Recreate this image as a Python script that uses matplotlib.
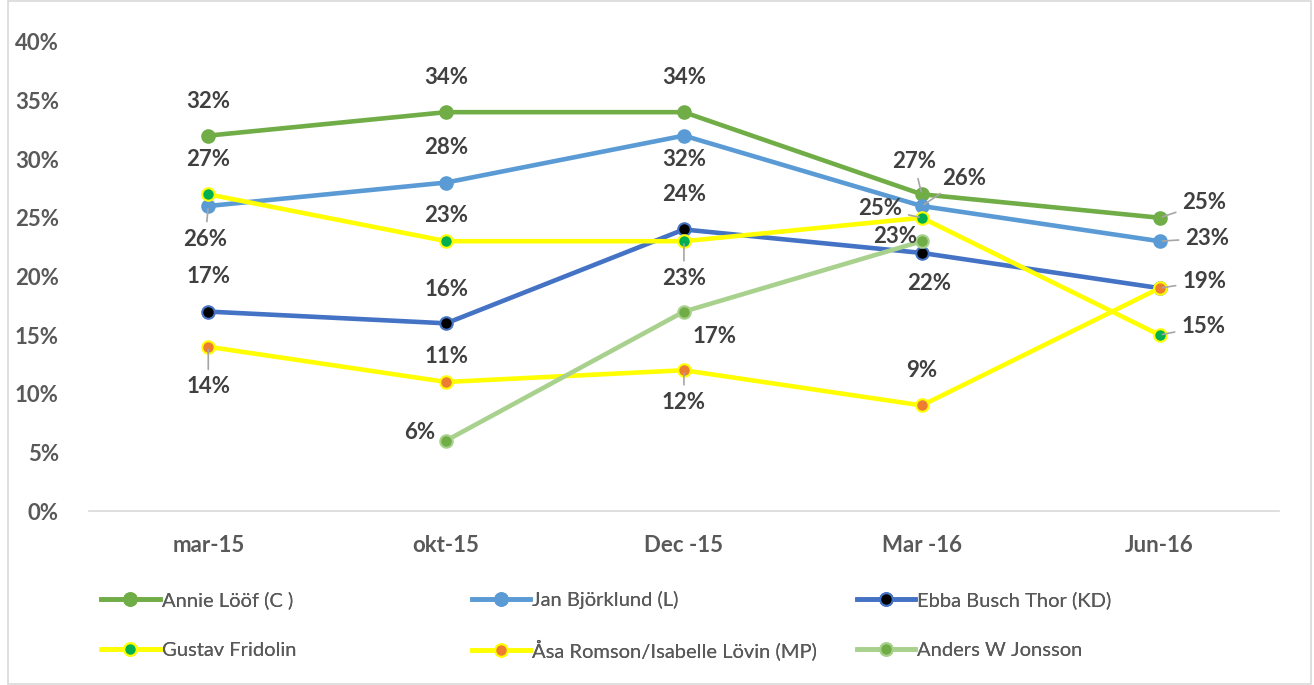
import numpy as np
import matplotlib
matplotlib.use("Agg")
from matplotlib import pyplot as plt
from matplotlib.patches import Rectangle
from matplotlib.lines import Line2D
from matplotlib.ticker import PercentFormatter

plt.rcParams["font.family"] = ["Lato", "DejaVu Sans"]

# data
categories = ["mar-15", "okt-15", "Dec -15", "Mar -16", "Jun-16"]
names = ["Annie Lööf (C )", "Jan Björklund (L)", "Ebba Busch Thor (KD)",
         "Gustav Fridolin", "Åsa Romson/Isabelle Lövin (MP)", "Anders W Jonsson"]
annie = [0.32, 0.34, 0.34, 0.27, 0.25]
jan = [0.26, 0.28, 0.32, 0.26, 0.23]
ebba = [0.17, 0.16, 0.24, 0.22, 0.19]
gustav = [0.27, 0.23, 0.23, 0.25, 0.15]
asa = [0.14, 0.11, 0.12, 0.09, 0.19]
anders = [np.nan, 0.06, 0.17, 0.23, np.nan]
series = [annie, jan, ebba, gustav, asa, anders]

# styles: line colour, marker face, marker edge
styles = [
    ("#70AD47", "#70AD47", "#70AD47"),
    ("#5B9BD5", "#5B9BD5", "#5B9BD5"),
    ("#4472C4", "#000000", "#4472C4"),
    ("#FFFF00", "#00B050", "#FFFF00"),
    ("#FFFF00", "#ED7D31", "#FFFF00"),
    ("#A9D18E", "#70AD47", "#A9D18E"),
]

# label offsets in pixels (dx, dy, leader), None = no label
offsets = [
    [(0, 34, 0), (0, 35, 0), (0, 35, 0), (-8, 33, 1), (45, 15, 1)],
    [(-3, -33, 1), (0, 35, 0), (0, -24, 0), (42, 28, 1), (48, 3, 1)],
    [(0, 35, 0), (0, 34, 0), (0, 35, 0), (7, -31, 0), None],
    [(0, 35, 0), (0, 26, 0), (0, -37, 1), (-42, 9, 1), (44, 9, 1)],
    [(0, -40, 1), (0, 25, 0), (0, -32, 1), (0, 35, 0), (45, 7, 1)],
    [None, (-26, 8, 0), (31, -25, 0), (-27, 5, 0), None],
]

txt = "#404040"
fig = plt.figure(figsize=(13.14, 6.85), dpi=100)
fig.patches.append(Rectangle((0.006, 0.002), 0.992, 0.996, transform=fig.transFigure,
                             fill=False, edgecolor="#D9D9D9", lw=1.2))
ax = fig.add_axes([0.068, 0.254, 0.905, 0.685])
x = np.arange(len(categories))

for vals, (lc, mf, me), offs in zip(series, styles, offsets):
    ax.plot(x, vals, color=lc, lw=3.3, marker="o", ms=9, mfc=mf, mec=me, mew=1.5,
            solid_capstyle="round", zorder=3)
    for xi, v, o in zip(x, vals, offs):
        if o is None or np.isnan(v):
            continue
        dx, dy, lead = o
        ap = None
        if lead:
            ap = dict(arrowstyle="-", color="#A6A6A6", lw=1.2, shrinkA=3, shrinkB=2)
        ax.annotate(f"{v * 100:.0f}%", (xi, v), xytext=(dx, dy), textcoords="offset pixels",
                    ha="center", va="center", fontsize=16, fontweight="bold", color=txt,
                    arrowprops=ap, zorder=4)

ax.set_xlim(-0.5, 4.5)
ax.set_ylim(0, 0.40)
ax.set_yticks(np.arange(0, 0.41, 0.05))
ax.yaxis.set_major_formatter(PercentFormatter(1.0, decimals=0))
ax.set_xticks(x)
ax.set_xticklabels(categories)
for lab in ax.get_xticklabels() + ax.get_yticklabels():
    lab.set_fontsize(16)
    lab.set_fontweight("bold")
    lab.set_color("#595959")
ax.tick_params(length=0)
ax.tick_params(axis="x", pad=17)
ax.tick_params(axis="y", pad=22)
for s in ["top", "right", "left"]:
    ax.spines[s].set_visible(False)
ax.spines["bottom"].set_color("#D9D9D9")
ax.spines["bottom"].set_linewidth(1.2)

# legend: each entry placed by hand on a 3x2 grid
handles = [Line2D([], [], color=lc, lw=3.3, marker="o", ms=9, mfc=mf, mec=me, mew=1.5)
           for lc, mf, me in styles]
col_x = [0.077, 0.359, 0.652]
row_y = [1 - 600 / 685, 1 - 650 / 685]
for i, (h, n) in enumerate(zip(handles, names)):
    leg = fig.legend([h], [n], loc="center left",
                     bbox_to_anchor=(col_x[i % 3], row_y[i // 3]),
                     frameon=False, fontsize=14.5, handlelength=2.9, handletextpad=0.1,
                     borderaxespad=0, borderpad=0)
    for t in leg.get_texts():
        t.set_color("#595959")
    fig.add_artist(leg)

fig.savefig("out.png", dpi=100)
